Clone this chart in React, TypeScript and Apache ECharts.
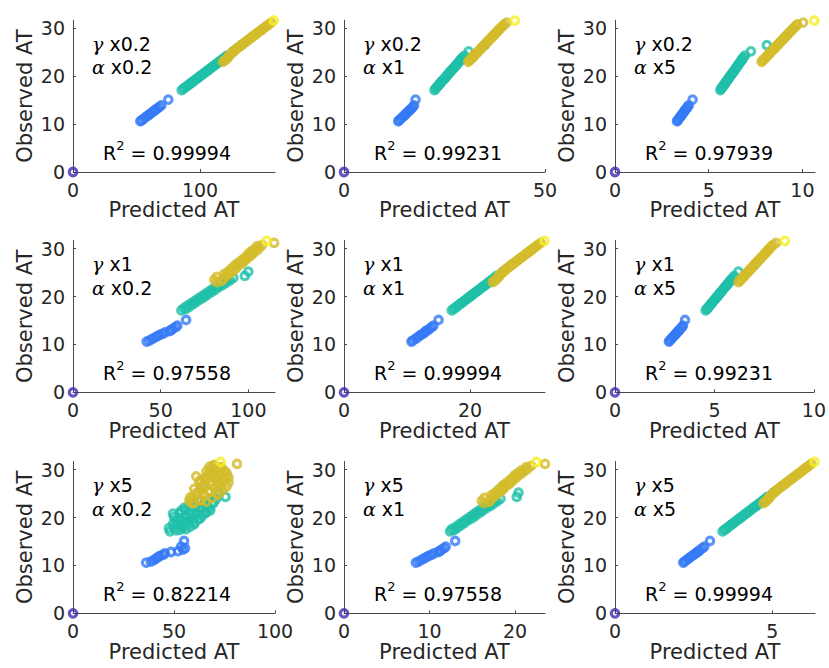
import React, { useEffect, useRef } from 'react';
import * as echarts from 'echarts';

// Observed AT values (shared by all panels), grouped by marker colour
const OBS_BLUE = [10.6, 10.8, 11.1, 11.4, 11.7, 12.0, 12.2, 12.5, 12.8, 13.0, 13.3, 13.6, 13.9, 15.1];
const OBS_TEAL = [17.1, 17.4, 17.6, 17.9, 18.1, 18.4, 18.6, 18.9, 19.1, 19.4, 19.6, 19.9, 20.1, 20.4, 20.6, 20.9, 21.1, 21.4, 21.6, 21.9, 22.1, 22.4, 22.6, 22.9, 23.1, 23.4, 23.6, 23.9, 24.3, 25.2, 26.5];
const OBS_GOLD = [23.0, 23.3, 23.5, 23.8, 24.1, 24.3, 24.6, 24.9, 25.1, 25.4, 25.7, 25.9, 26.2, 26.5, 26.7, 27.0, 27.3, 27.5, 27.8, 28.1, 28.3, 28.6, 28.9, 29.1, 29.4, 29.7, 29.9, 30.2, 30.5, 30.8, 31.2];
const OBS_YELLOW = [31.6];
const OBS_ORIGIN = [0];

// Predicted AT values per panel (panel 1..9, row by row)
const PRED_BLUE = [
  [53, 54, 55.5, 57, 58.5, 60, 61, 62.5, 64, 65, 66.5, 68, 69.5, 75],
  [13.5, 13.7, 14.1, 14.5, 14.9, 15.2, 15.5, 15.8, 16.2, 16.5, 16.8, 17.2, 17.4, 17.8],
  [3.31, 3.35, 3.40, 3.46, 3.52, 3.57, 3.61, 3.67, 3.72, 3.76, 3.82, 3.88, 3.93, 4.14],
  [42, 43.5, 45, 46.5, 48, 49.5, 51, 52.5, 55, 56, 57, 58.5, 59.5, 64.5],
  [10.7, 10.9, 11.3, 11.6, 11.9, 12.2, 12.5, 12.8, 13.0, 13.3, 13.6, 13.9, 14.2, 15.0],
  [2.71, 2.75, 2.82, 2.88, 2.95, 3.01, 3.06, 3.12, 3.19, 3.23, 3.30, 3.36, 3.42, 3.52],
  [36.2, 38.5, 40, 41, 42, 43, 44.5, 45.5, 48.5, 52, 54.5, 55.5, 53.5, 55],
  [8.4, 8.7, 9.0, 9.3, 9.6, 9.9, 10.2, 10.5, 11.0, 11.2, 11.4, 11.7, 11.9, 13.0],
  [2.17, 2.21, 2.27, 2.33, 2.39, 2.45, 2.5, 2.56, 2.62, 2.66, 2.72, 2.78, 2.84, 3.02],
];
const PRED_TEAL = [
  [85.5, 87, 88, 89.5, 90.5, 92, 93, 94.5, 95.5, 97, 98, 99.5, 100.5, 102, 103, 104.5, 105.5, 107, 108, 109.5, 110.5, 112, 113, 114.5, 115.5, 117, 118, 119.5, 121, 126, 132.5],
  [22.5, 22.8, 23.0, 23.3, 23.5, 23.8, 24.0, 24.3, 24.5, 24.9, 25.1, 25.4, 25.6, 25.9, 26.1, 26.4, 26.6, 26.9, 27.2, 27.5, 27.7, 28.0, 28.2, 28.5, 28.7, 29.0, 29.2, 29.5, 30.0, 31.0, 35.0],
  [5.62, 5.67, 5.71, 5.76, 5.80, 5.85, 5.89, 5.94, 5.98, 6.04, 6.07, 6.13, 6.16, 6.22, 6.25, 6.31, 6.35, 6.40, 6.44, 6.49, 6.53, 6.58, 6.62, 6.67, 6.71, 6.76, 6.80, 6.85, 6.93, 7.25, 8.1],
  [61.8, 64.5, 63.2, 66.5, 65.3, 68.5, 67.4, 70.5, 69.5, 72.6, 71.5, 74.8, 73.6, 76.8, 75.6, 78.9, 77.7, 81, 79.7, 83, 81.8, 85.3, 83.9, 87.5, 86, 89.5, 88, 91.5, 98, 100, 93],
  [17.1, 17.4, 17.6, 17.9, 18.1, 18.4, 18.6, 18.9, 19.1, 19.4, 19.6, 19.9, 20.1, 20.4, 20.6, 20.9, 21.1, 21.4, 21.6, 21.9, 22.1, 22.4, 22.6, 22.9, 23.1, 23.4, 23.6, 23.9, 24.2, 25.2, 26.5],
  [4.56, 4.62, 4.66, 4.72, 4.76, 4.82, 4.86, 4.92, 4.96, 5.02, 5.06, 5.12, 5.16, 5.22, 5.26, 5.32, 5.36, 5.42, 5.46, 5.52, 5.56, 5.62, 5.66, 5.72, 5.76, 5.82, 5.86, 5.92, 6.0, 6.2, 7.0],
  [48, 53, 56, 50, 58, 54, 49.5, 60, 55, 51, 62, 57, 50, 64, 59, 53, 66, 61, 55.5, 67.5, 63, 57.5, 65.5, 60, 69, 63, 67, 71, 75.5, 72, 64],
  [12.4, 12.9, 12.6, 13.3, 13.1, 13.7, 13.5, 14.1, 13.9, 14.5, 14.3, 15.0, 14.7, 15.4, 15.1, 15.8, 15.5, 16.2, 15.9, 16.6, 16.4, 17.1, 16.8, 17.5, 17.2, 17.9, 17.6, 18.3, 20.2, 20.4, 18.6],
  [3.42, 3.48, 3.52, 3.58, 3.62, 3.68, 3.72, 3.78, 3.82, 3.88, 3.92, 3.98, 4.02, 4.08, 4.12, 4.18, 4.22, 4.28, 4.32, 4.38, 4.42, 4.48, 4.52, 4.58, 4.62, 4.68, 4.72, 4.78, 4.84, 5.04, 5.3],
];
const PRED_GOLD = [
  [118, 119.5, 120.5, 121.5, 122.5, 123, 124, 125, 126, 127.5, 128.5, 129.5, 131, 132.5, 133.5, 135, 136.5, 137.5, 139, 140.5, 141.5, 143, 144.5, 145.5, 147, 148.5, 149.5, 151, 152.5, 154, 156],
  [30.9, 31.2, 31.5, 31.8, 32.2, 32.4, 32.7, 33.1, 33.3, 33.6, 34.0, 34.2, 34.5, 34.9, 35.1, 35.5, 35.8, 36.0, 36.4, 36.7, 37.0, 37.3, 37.6, 37.9, 38.2, 38.5, 38.8, 39.1, 39.5, 39.8, 40.5],
  [7.82, 7.89, 7.94, 8.01, 8.09, 8.14, 8.21, 8.28, 8.33, 8.40, 8.48, 8.52, 8.60, 8.67, 8.72, 8.79, 8.86, 8.91, 8.99, 9.06, 9.11, 9.18, 9.25, 9.30, 9.38, 9.45, 9.50, 9.57, 9.64, 9.72, 10.04],
  [82, 85, 80.5, 86, 82, 87.5, 86, 89.5, 88, 91.5, 90, 93, 91.5, 94.5, 93, 96.5, 95, 98, 97, 100, 98.5, 101.5, 100, 103, 101.5, 105, 103.5, 106.5, 105, 108, 114.7],
  [23.6, 23.9, 24.1, 24.3, 24.5, 24.6, 24.8, 25.0, 25.2, 25.5, 25.7, 25.9, 26.2, 26.5, 26.7, 27.0, 27.3, 27.5, 27.8, 28.1, 28.3, 28.6, 28.9, 29.1, 29.4, 29.7, 29.9, 30.2, 30.5, 30.8, 31.2],
  [6.21, 6.27, 6.32, 6.39, 6.45, 6.50, 6.56, 6.63, 6.68, 6.74, 6.81, 6.85, 6.92, 6.99, 7.03, 7.10, 7.17, 7.21, 7.28, 7.35, 7.39, 7.46, 7.52, 7.57, 7.63, 7.70, 7.75, 7.81, 7.88, 7.95, 8.10],
  [60, 66, 57.5, 63, 69, 59.5, 65, 72, 61, 68, 74, 63, 70, 76, 65, 72, 62.5, 68, 75, 65, 71.5, 76, 67, 73, 69.5, 75, 67.5, 71, 73.5, 69.5, 81.2],
  [16.4, 17.0, 16.1, 17.2, 16.4, 17.5, 17.2, 17.9, 17.6, 18.3, 18.0, 18.6, 18.3, 18.9, 18.6, 19.3, 19.0, 19.6, 19.4, 20.0, 19.7, 20.3, 20.0, 20.7, 20.4, 21.1, 20.8, 21.5, 21.3, 21.9, 23.5],
  [4.72, 4.78, 4.82, 4.86, 4.9, 4.92, 4.96, 5.0, 5.04, 5.1, 5.14, 5.18, 5.24, 5.3, 5.34, 5.4, 5.46, 5.5, 5.56, 5.62, 5.66, 5.72, 5.78, 5.82, 5.88, 5.94, 5.98, 6.04, 6.1, 6.16, 6.24],
];
const PRED_YELLOW = [[158], [42.5], [10.63], [110.5], [31.8], [8.54], [73.1], [22.5], [6.34]];
const PRED_ORIGIN = [0];

// Further points of the wide clouds in the γ x5 / α x0.2 panel (predicted, observed)
const P7_TEAL_EXTRA = [
  [47.5, 17.8], [51, 17.3], [54.5, 17.9], [52, 18.6], [56.5, 18.9], [59, 19.5], [52.5, 19.8], [55.5, 20.3],
  [61, 20.6], [65.5, 20.9], [58, 21.3], [63.5, 21.8], [68, 21.5], [60.5, 22.4], [65, 22.8], [55, 22.0],
  [58.5, 23.2], [62, 23.7], [49.5, 20.8], [53.5, 21.4], [57, 19.2], [60, 18.6], [63, 19.8], [66.5, 22.2],
  [69.5, 23.0], [72, 24.8],
];
const P7_GOLD_EXTRA = [
  [58, 24.2], [62, 24.8], [67, 25.3], [71, 25.0], [60, 26.0], [64, 26.4], [68.5, 26.8], [73, 26.3],
  [77, 27.3], [63, 27.8], [66.5, 28.3], [70, 28.6], [74, 28.0], [77, 28.4], [66, 29.6], [70, 29.8],
  [73, 30.2], [70, 31.0], [67.5, 30.6], [63.5, 23.6], [61, 28.6], [76, 29.3], [59, 23.0], [72, 27.5],
];

// Axes
const X_MAX = [159, 50, 10.67, 115.2, 31.9, 10, 100, 23.5, 6.36];
const X_TICKS = [[0, 100], [0, 50], [0, 5, 10], [0, 50, 100], [0, 20], [0, 5, 10], [0, 50, 100], [0, 10, 20], [0, 5]];
const Y_MAX = 31.7;
const Y_TICKS = [0, 10, 20, 30];

// Annotations
const GAMMA = ['x0.2', 'x0.2', 'x0.2', 'x1', 'x1', 'x1', 'x5', 'x5', 'x5'];
const ALPHA = ['x0.2', 'x1', 'x5', 'x0.2', 'x1', 'x5', 'x0.2', 'x1', 'x5'];
const R2 = ['0.99994', '0.99231', '0.97939', '0.97558', '0.99994', '0.99231', '0.82214', '0.97558', '0.99994'];

const COL_LEFT = [73, 344, 615];
const COL_W = [202, 201, 200];
const ROW_TOP = [20.2, 240.5, 461.5];
const GRID_H = 151.8;

const C_BLUE = '#3479f6';
const C_TEAL = '#1fbfa9';
const C_GOLD = '#d3bb2b';
const C_YELLOW = '#f7ef1e';
const C_ORIGIN = '#3f2bab';
const AXIS_COLOR = '#4a4a4a';
const TEXT_COLOR = '#262626';
const FONT = 'DejaVu Sans';

export default function App() {
  const ref = useRef<HTMLDivElement>(null);
  useEffect(() => {
    if (!ref.current) return;
    const chart = echarts.init(ref.current, null, { renderer: 'svg' });
    const grid: any[] = [];
    const xAxis: any[] = [];
    const yAxis: any[] = [];
    const series: any[] = [];
    const graphic: any[] = [];
    const pair = (xs: number[], ys: number[]) => xs.map((x, k) => [x, ys[k]]);
    const scat = (i: number, data: number[][], color: string) => ({
      type: 'scatter',
      xAxisIndex: i,
      yAxisIndex: i,
      data,
      symbol: 'circle',
      symbolSize: 7.5,
      clip: false,
      silent: true,
      itemStyle: { color: 'rgba(255,255,255,0)', borderColor: color, borderWidth: 3.2 },
    });
    for (let i = 0; i < 9; i++) {
      const r = Math.floor(i / 3);
      const c = i % 3;
      const left = COL_LEFT[c];
      const top = ROW_TOP[r];
      grid.push({ left, top, width: COL_W[c], height: GRID_H });
      const ticks = X_TICKS[i];
      xAxis.push({
        gridIndex: i,
        type: 'value',
        min: 0,
        max: X_MAX[i],
        interval: ticks[1],
        name: 'Predicted AT',
        nameLocation: 'middle',
        nameGap: 27,
        nameTextStyle: { fontSize: 21, color: TEXT_COLOR, fontFamily: FONT },
        axisLine: { show: true, onZero: false, lineStyle: { color: AXIS_COLOR, width: 1 } },
        axisTick: { show: true, inside: true, length: 3, customValues: ticks, lineStyle: { color: AXIS_COLOR } },
        axisLabel: { customValues: ticks, margin: 8, fontSize: 19, color: TEXT_COLOR, fontFamily: FONT },
        splitLine: { show: false },
      });
      yAxis.push({
        gridIndex: i,
        type: 'value',
        min: 0,
        max: Y_MAX,
        interval: 10,
        name: 'Observed AT',
        nameLocation: 'middle',
        nameGap: 38,
        nameTextStyle: { fontSize: 21, color: TEXT_COLOR, fontFamily: FONT },
        axisLine: { show: true, onZero: false, lineStyle: { color: AXIS_COLOR, width: 1 } },
        axisTick: { show: true, inside: true, length: 3, customValues: Y_TICKS, lineStyle: { color: AXIS_COLOR } },
        axisLabel: { customValues: Y_TICKS, margin: 8, fontSize: 19, color: TEXT_COLOR, fontFamily: FONT },
        splitLine: { show: false },
      });
      const blue = pair(PRED_BLUE[i], OBS_BLUE);
      const teal = pair(PRED_TEAL[i], OBS_TEAL).concat(i === 6 ? P7_TEAL_EXTRA : []);
      const gold = pair(PRED_GOLD[i], OBS_GOLD).concat(i === 6 ? P7_GOLD_EXTRA : []);
      series.push(scat(i, blue, C_BLUE));
      series.push(scat(i, teal, C_TEAL));
      series.push(scat(i, gold, C_GOLD));
      series.push(scat(i, pair(PRED_YELLOW[i], OBS_YELLOW), C_YELLOW));
      series.push(scat(i, pair(PRED_ORIGIN, OBS_ORIGIN), C_ORIGIN));

      const greek = { fontFamily: 'DejaVu Serif', fontStyle: 'italic', fontSize: 19, fill: '#000' };
      graphic.push({
        type: 'text',
        x: left + 19,
        y: top + 23.5,
        silent: true,
        style: {
          text: '{g|γ} ' + GAMMA[i],
          fontSize: 19,
          fontFamily: FONT,
          fill: '#000',
          verticalAlign: 'middle',
          rich: { g: greek },
        },
      });
      graphic.push({
        type: 'text',
        x: left + 19,
        y: top + 47,
        silent: true,
        style: {
          text: '{g|α} ' + ALPHA[i],
          fontSize: 19,
          fontFamily: FONT,
          fill: '#000',
          verticalAlign: 'middle',
          rich: { g: greek },
        },
      });
      graphic.push({
        type: 'text',
        x: left + 30,
        y: top + GRID_H - 19.5,
        silent: true,
        style: {
          text: 'R{s|2} = ' + R2[i],
          fontSize: 19,
          fontFamily: FONT,
          fill: '#000',
          lineHeight: 28,
          verticalAlign: 'middle',
          rich: { s: { fontSize: 13, fontFamily: FONT, fill: '#000', verticalAlign: 'top', lineHeight: 16 } },
        },
      });
    }
    chart.setOption({
      animation: false,
      backgroundColor: '#ffffff',
      textStyle: { fontFamily: FONT },
      grid,
      xAxis,
      yAxis,
      series,
      graphic,
    });
    return () => chart.dispose();
  }, []);
  return <div ref={ref} style={{ position: 'absolute', left: 0, top: 0, width: 829, height: 668 }} />;
}
